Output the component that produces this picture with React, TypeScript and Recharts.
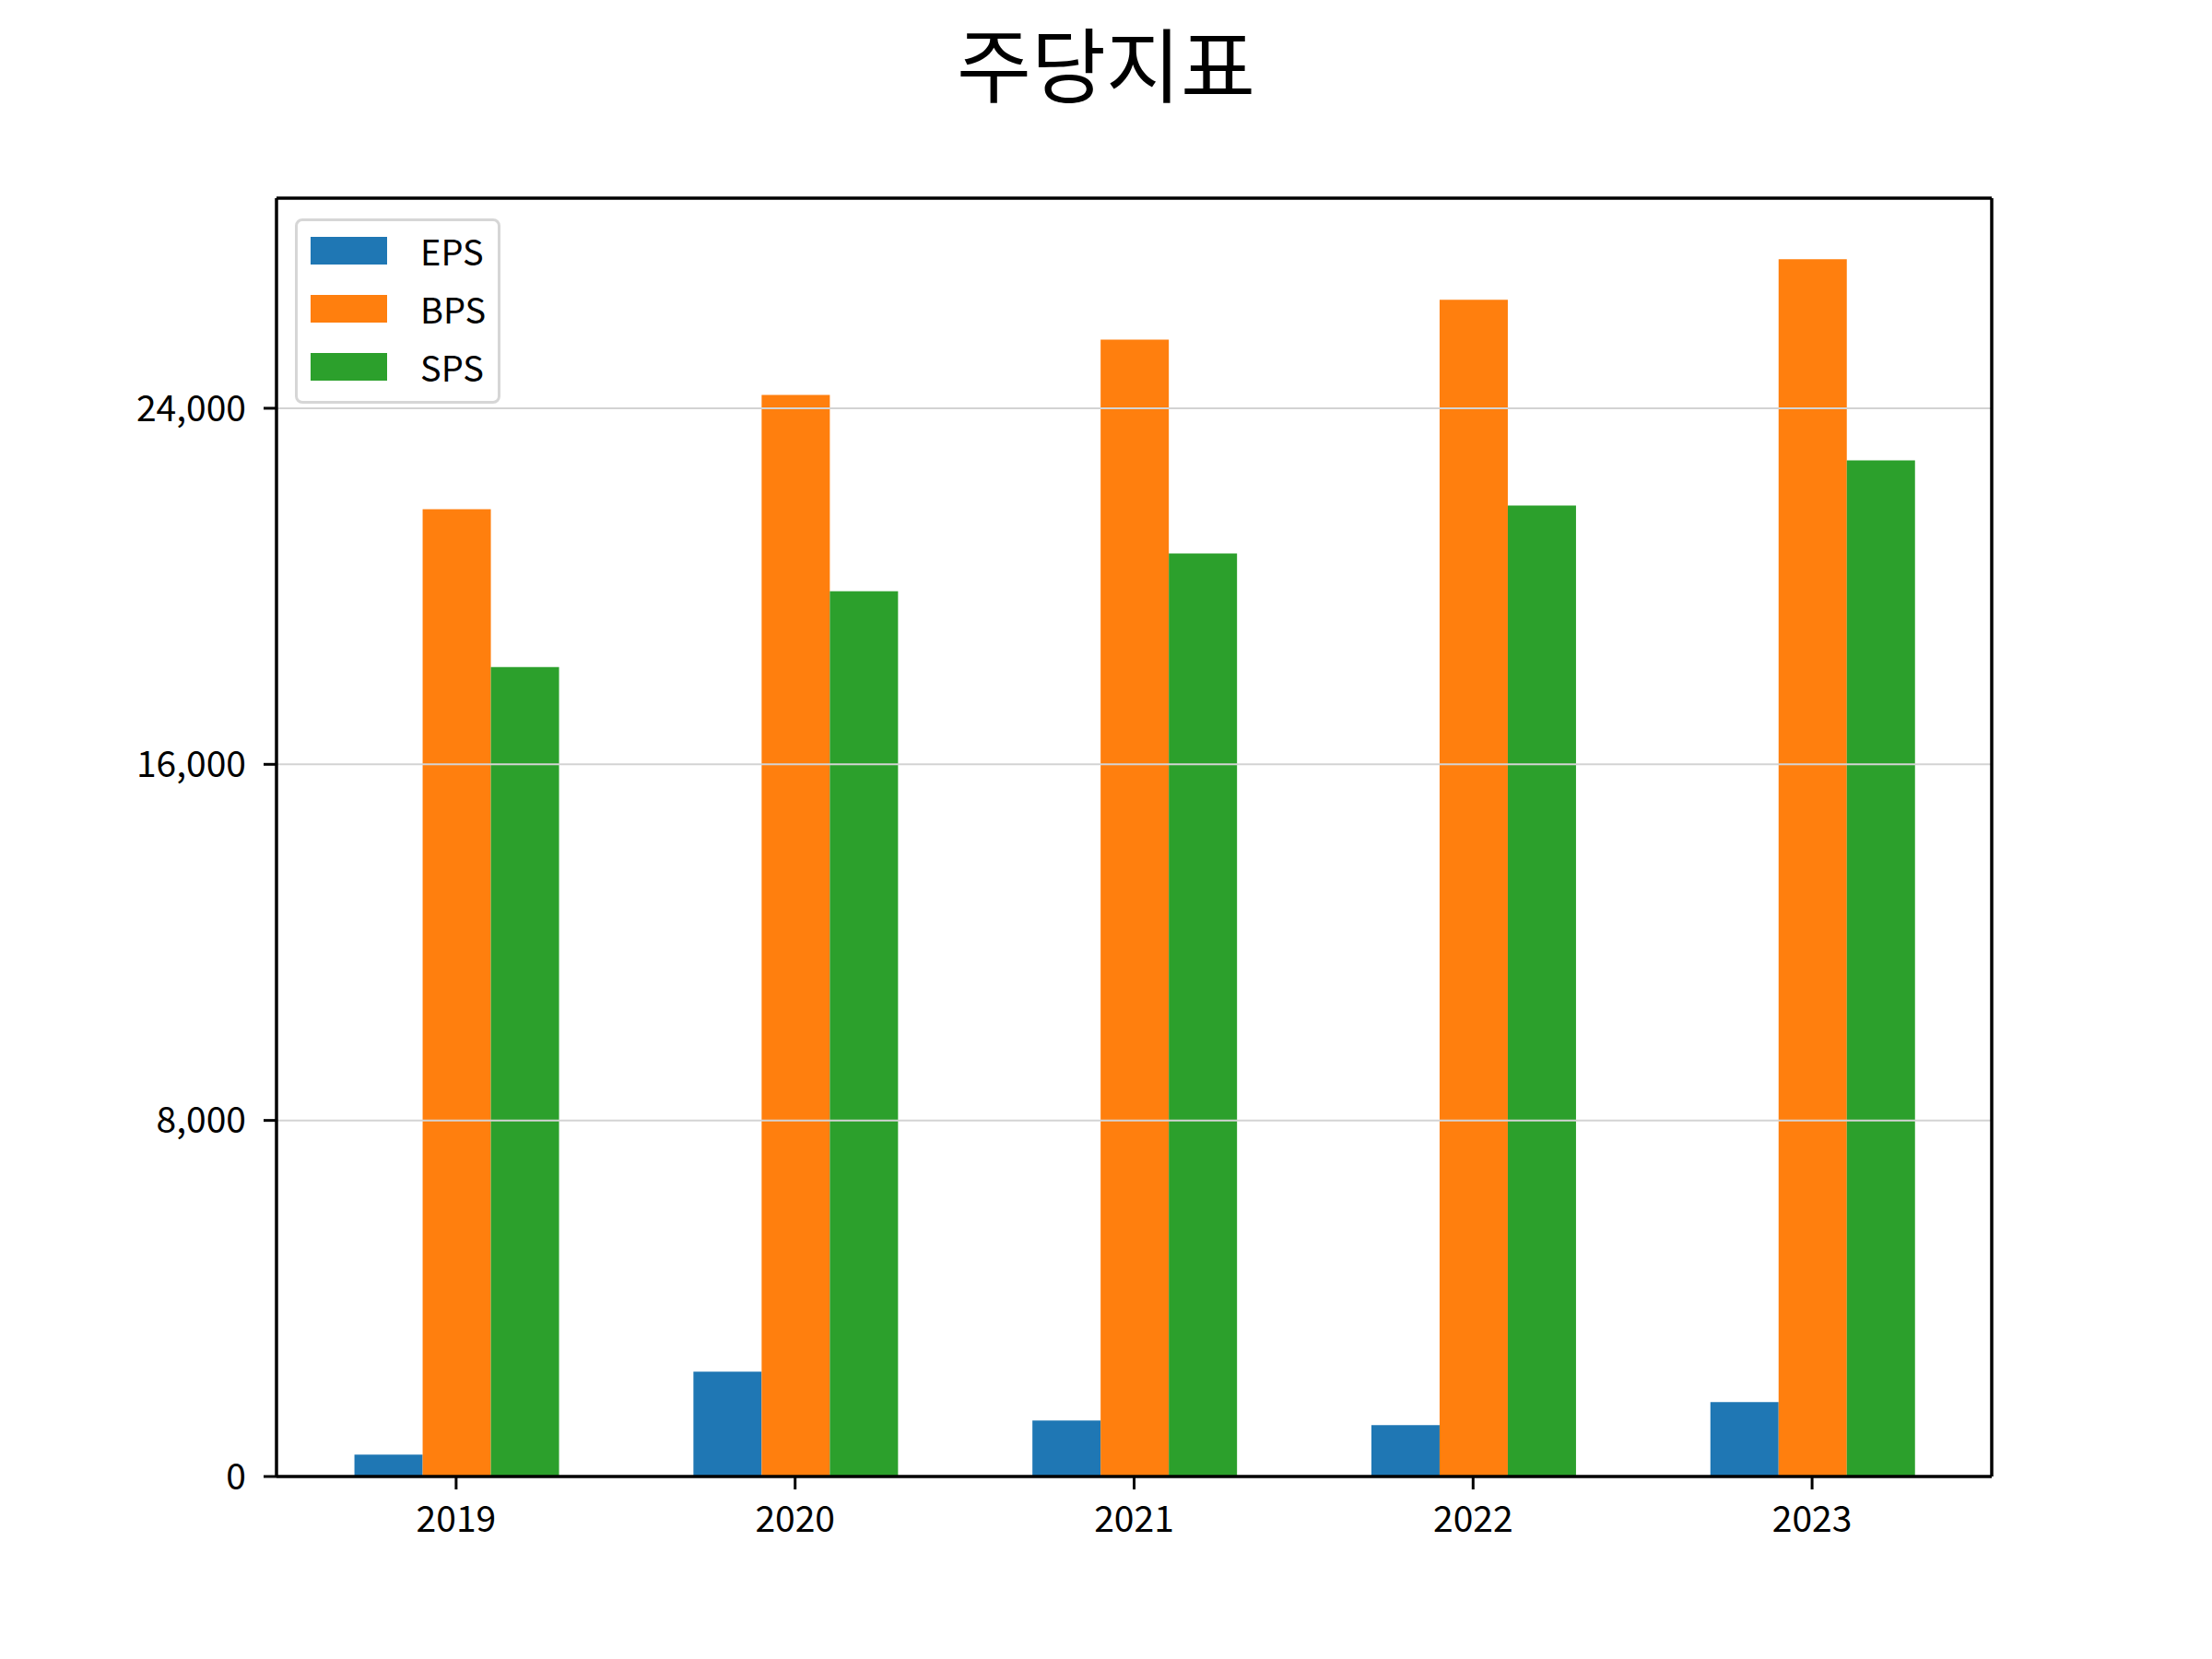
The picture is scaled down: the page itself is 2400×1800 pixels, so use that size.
import React from 'react'
import { BarChart, Bar, XAxis, YAxis, ReferenceLine } from 'recharts'

const years = ['2019', '2020', '2021', '2022', '2023']
const eps = [491, 2356, 1258, 1154, 1672]
const bps = [21731, 24301, 25544, 26435, 27347]
const sps = [18188, 19887, 20737, 21814, 22829]
const yTicks = [0, 8000, 16000, 24000]
const yMax = 28720

const SERIES = [
  { key: 'EPS', color: '#1f77b4' },
  { key: 'BPS', color: '#ff7f0e' },
  { key: 'SPS', color: '#2ca02c' },
]

const data = years.map((year, i) => ({ year, EPS: eps[i], BPS: bps[i], SPS: sps[i] }))

const FONT = '"Noto Sans CJK KR", "Noto Sans", sans-serif'
const tickStyle = { fontSize: 39, fill: '#000', fontFamily: FONT }
const axisLine = { stroke: '#000', strokeWidth: 3.5 }
const tickLine = { stroke: '#000', strokeWidth: 3 }

function LegendBox() {
  return (
    <div
      style={{
        width: 223,
        height: 201,
        boxSizing: 'border-box',
        border: '3.5px solid #d6d6d6',
        borderRadius: 8,
        background: '#fff',
        fontFamily: FONT,
      }}
    >
      {SERIES.map(s => (
        <div key={s.key} style={{ display: 'flex', alignItems: 'center', height: 63 }}>
          <span style={{ display: 'inline-block', width: 83, height: 30, background: s.color, marginLeft: 14 }} />
          <span style={{ fontSize: 38, marginLeft: 36, color: '#000' }}>{s.key}</span>
        </div>
      ))}
    </div>
  )
}

export default function App() {
  return (
    <div style={{ position: 'absolute', left: 0, top: 0, width: 2400, height: 1800, background: '#fff', fontFamily: FONT }}>
      <svg width={2400} height={160} style={{ position: 'absolute', left: 0, top: 0 }}>
        <text x={1200} y={104} textAnchor="middle" fontSize={88} fontFamily={FONT} fill="#000">
          주당지표
        </text>
      </svg>
      <div style={{ position: 'absolute', left: 0, top: 0 }}>
        <BarChart
          width={2400}
          height={1800}
          data={data}
          margin={{ top: 215, right: 238, left: 0, bottom: 0 }}
          barGap={0}
          barCategoryGap="20%"
        >
          <XAxis
            dataKey="year"
            height={198}
            padding={{ left: 11, right: 11 }}
            tick={tickStyle}
            tickSize={14}
            tickMargin={18}
            axisLine={axisLine}
            tickLine={tickLine}
          />
          <YAxis
            width={300}
            domain={[0, yMax]}
            ticks={yTicks}
            tick={tickStyle}
            tickSize={14}
            tickMargin={19}
            tickFormatter={(v: number) => v.toLocaleString('en-US')}
            axisLine={axisLine}
            tickLine={tickLine}
            allowDataOverflow
          />
          <YAxis
            yAxisId="right"
            orientation="right"
            width={1}
            domain={[0, yMax]}
            tick={false}
            tickLine={false}
            axisLine={axisLine}
          />
          {SERIES.map(s => (
            <Bar key={s.key} dataKey={s.key} fill={s.color} isAnimationActive={false} />
          ))}
          {yTicks.slice(1).map(t => (
            <ReferenceLine key={t} y={t} stroke="#d3d3d3" strokeWidth={2} />
          ))}
          <ReferenceLine y={yMax} stroke="#000" strokeWidth={3.5} />
        </BarChart>
      </div>
      <div style={{ position: 'absolute', left: 320, top: 237 }}>
        <LegendBox />
      </div>
    </div>
  )
}
